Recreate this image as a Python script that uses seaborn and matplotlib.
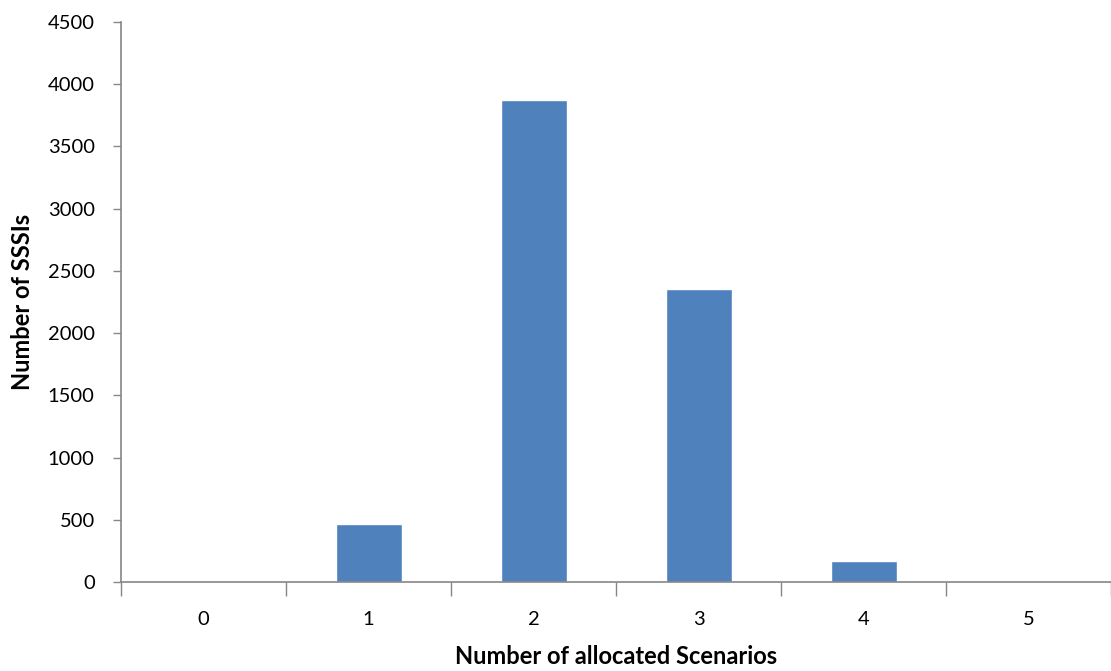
import matplotlib
matplotlib.use("Agg")
import matplotlib.pyplot as plt
import seaborn as sns
import pandas as pd
import numpy as np

# Distribution of SSSIs by number of allocated scenarios
scenarios = ["0", "1", "2", "3", "4", "5"]
sssi_counts = [0, 466, 3870, 2355, 170, 0]

y_ticks = [0, 500, 1000, 1500, 2000, 2500, 3000, 3500, 4000, 4500]

sns.set_style("white")
plt.rcParams["font.family"] = ["Lato", "DejaVu Sans"]
plt.rcParams["text.color"] = "black"
plt.rcParams["xtick.color"] = "black"
plt.rcParams["ytick.color"] = "black"
plt.rcParams["axes.labelcolor"] = "black"

df = pd.DataFrame({"scenarios": scenarios, "count": sssi_counts})

fig = plt.figure(figsize=(11.11, 6.71), dpi=100)
ax = fig.add_axes([0.109, 0.1326, 0.891, 0.8346])

sns.barplot(data=df, x="scenarios", y="count", color="#4F81BD",
            saturation=1, width=0.4, ax=ax)

axis_grey = "#868686"
ax.set_ylim(0, 4500)
ax.set_xlim(-0.5, len(scenarios) - 0.5)
ax.set_yticks(y_ticks)
ax.set_yticklabels([str(v) for v in y_ticks], fontsize=14.5)
ax.tick_params(axis="y", which="major", direction="out", length=6,
               width=1, color=axis_grey, pad=13, left=True)

# category boundaries carry the x tick marks; labels sit at centres
ax.set_xticks(np.arange(len(scenarios)))
ax.set_xticklabels(scenarios, fontsize=14.5)
ax.set_xticks(np.arange(-0.5, len(scenarios)), minor=True)
ax.tick_params(axis="x", which="major", length=0, pad=21)
ax.tick_params(axis="x", which="minor", direction="out", length=10,
               width=1, color=axis_grey, bottom=True)

for side in ("top", "right"):
    ax.spines[side].set_visible(False)
for side in ("left", "bottom"):
    ax.spines[side].set_color(axis_grey)
    ax.spines[side].set_linewidth(1.2)

ax.set_xlabel("Number of allocated Scenarios", fontsize=17, fontweight="bold",
              labelpad=12)
ax.set_ylabel("Number of SSSIs", fontsize=17, fontweight="bold", labelpad=10)

fig.savefig("out.png", dpi=100)
